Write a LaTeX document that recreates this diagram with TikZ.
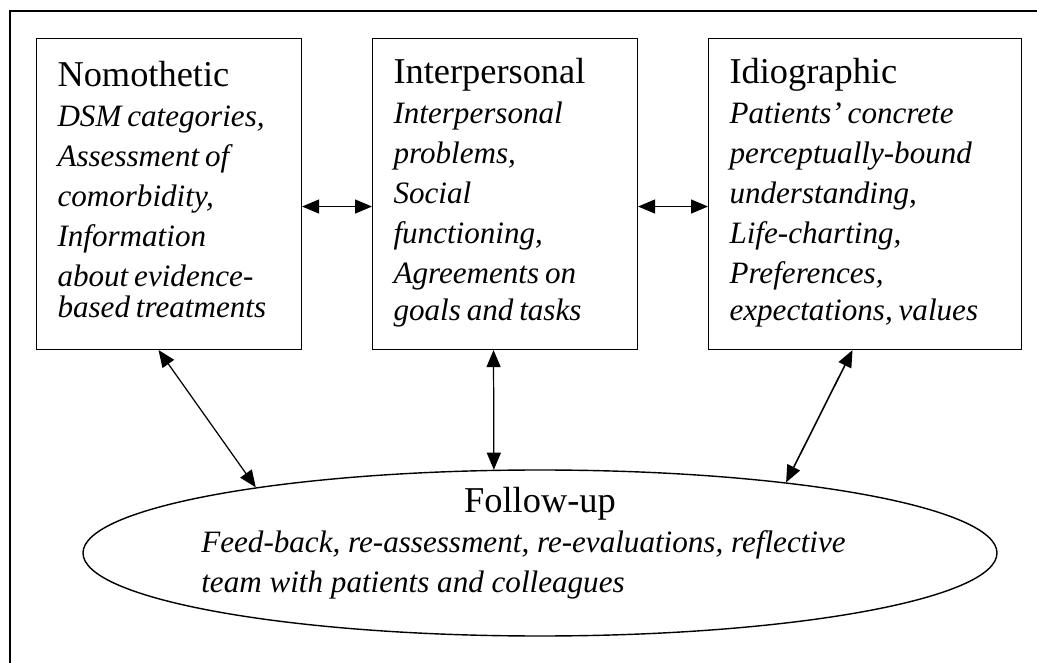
\documentclass[tikz,border=0pt]{standalone}
\usepackage{fontspec}
\setmainfont{Liberation Serif}
\usetikzlibrary{arrows.meta,shapes.geometric}
\def\hdfont{\fontsize{20.7}{22.76}\selectfont}
\def\itfont{\fontsize{17.7}{22.76}\selectfont\itshape}

\begin{document}
\begin{tikzpicture}[
    panel/.style={draw,line width=0.6pt,anchor=north west,align=left,inner xsep=0.42cm,inner ysep=0pt,minimum height=6.22cm,text width=#1},
    panel/.default=4.46cm,
    link/.style={{Triangle[length=3.4mm,width=2.8mm]}-{Triangle[length=3.4mm,width=2.8mm]},line width=0.7pt}]
\useasboundingbox (0,0) rectangle (20.74,13.24);
\draw[line width=0.9pt] (0.2,13.02) rectangle (21.0,-0.3);

    % the three views
    \node[panel] (nomo) at (0.72,12.48) {\hdfont\strut Nomothetic\\ \itfont DSM categories,\\ Assessment of\\ comorbidity,\\ Information\\ about evidence-\\ based treatments\strut};
    \node[panel] (inter) at (7.44,12.48) {\hdfont\strut Interpersonal\\ \itfont Interpersonal\\ problems,\\ Social\\ functioning,\\ Agreements on\\ goals and tasks\strut};
    \node[panel=5.42cm] (idio) at (14.16,12.48) {\hdfont\strut Idiographic\\ \itfont Patients’ concrete\\ perceptually-bound\\ understanding,\\ Life-charting,\\ Preferences,\\ expectations, values\strut};

    % follow-up
    \node[draw,ellipse,line width=0.8pt,minimum width=18.28cm,minimum height=3.32cm,inner sep=0pt] (fu) at (10.8,2.18) {};
    \node[anchor=base,font=\hdfont,inner sep=0pt] (futitle) at ([yshift=0.82cm]fu.center) {Follow-up};
    \node[anchor=north west,align=left,font=\itfont,inner sep=0pt] (futext) at ([xshift=-6.78cm,yshift=0.58cm]fu.center) {\strut Feed-back, re-assessment, re-evaluations, reflective\\ team with patients and colleagues};

    \draw[link] ([yshift=-0.25cm]nomo.east) -- ([yshift=-0.25cm]inter.west);
    \draw[link] ([yshift=-0.25cm]inter.east) -- ([yshift=-0.25cm]idio.west);
    \draw[link] ([xshift=-0.21cm]nomo.south) -- (fu.167.5);
    \draw[link] ([xshift=-0.23cm]inter.south) -- (fu.119.7);
    \draw[link,line width=0.9pt] ([xshift=-0.25cm]idio.south) -- (fu.16.6);

\end{tikzpicture}
\end{document}
